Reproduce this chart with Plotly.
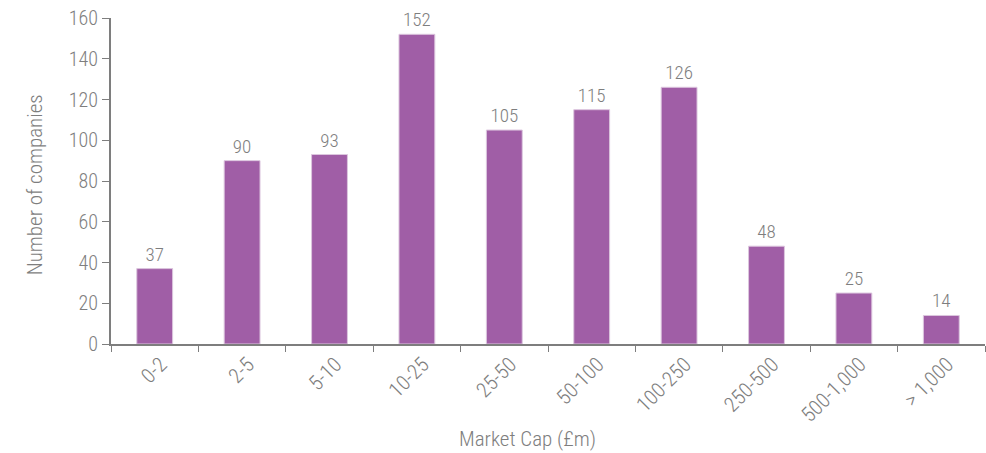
import plotly.graph_objects as go

categories = ["0-2", "2-5", "5-10", "10-25", "25-50", "50-100", "100-250", "250-500", "500-1,000", "> 1,000"]
companies = [37, 90, 93, 152, 105, 115, 126, 48, 25, 14]

FONT = "Roboto Condensed, Roboto, sans-serif"
GREY = "#7E7E7E"

fig = go.Figure(go.Bar(
    x=categories, y=companies,
    marker=dict(color="#A05EA6", line=dict(color="#DCC6DE", width=1)),
    width=0.41,
    text=[str(v) for v in companies], textposition="outside",
    textfont=dict(family=FONT, size=19, color=GREY, weight=300),
    cliponaxis=False,
))

fig.update_layout(
    width=986, height=453,
    margin=dict(l=111, r=1, t=18, b=109),
    paper_bgcolor="white", plot_bgcolor="white",
    font=dict(family=FONT, color=GREY, size=18, weight=300),
    showlegend=False,
    bargap=0.59,
    annotations=[
        dict(text="Market Cap (£m)", xref="paper", yref="paper", x=0.477, y=-0.29,
             xanchor="center", yanchor="middle", showarrow=False,
             font=dict(family=FONT, size=21, color=GREY, weight=300)),
        dict(text="Number of companies", xref="paper", yref="paper", x=-0.087, y=0.49,
             xanchor="center", yanchor="middle", showarrow=False, textangle=-90,
             font=dict(family=FONT, size=21, color=GREY, weight=300)),
    ],
)
fig.update_xaxes(
    type="category", tickson="boundaries", ticks="outside", ticklen=6, tickcolor=GREY,
    showline=True, linecolor=GREY, linewidth=2, tickangle=-45, automargin=False,
    tickfont=dict(family=FONT, size=21, color=GREY, weight=300),
    ticklabelshift=6, ticklabelstandoff=-2,
    showgrid=False,
)
fig.update_yaxes(
    range=[0, 160], dtick=20, ticks="outside", ticklen=7, tickcolor=GREY,
    showline=True, linecolor=GREY, linewidth=2, showgrid=False, zeroline=False,
    automargin=False,
    tickfont=dict(family=FONT, size=20, color=GREY, weight=300),
)

fig.write_html("out.html", config={"displayModeBar": False},
               post_script="document.body.style.margin='0px';document.body.style.overflow='hidden';")
